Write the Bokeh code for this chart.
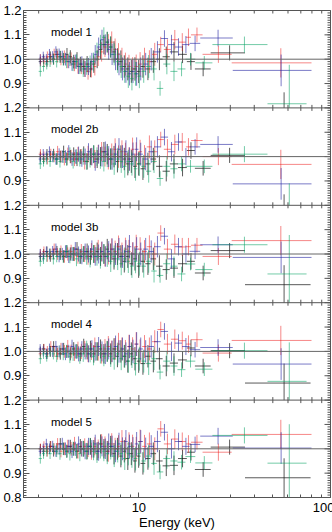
import math
from bokeh.plotting import figure
from bokeh.models import Range1d, FixedTicker, Span, GlobalInlineStyleSheet
from bokeh.embed import file_html
from bokeh.resources import INLINE
from bokeh.core.properties import value

# ---------------- data ----------------
model_labels = ["model 1", "model 2b", "model 3b", "model 4", "model 5"]
y_tick_labels = ["0.8", "0.9", "1.0", "1.1", "1.2"]
ratio_min, ratio_max = 0.8, 1.2
x_lo, x_hi = 2.5, 100
x_major = [10, 100]
x_major_labels = ["10", "100"]
x_minor = [3, 4, 5, 6, 7, 8, 9, 20, 30, 40, 50, 60, 70, 80, 90]

# energy bin edges (keV) per detector / epoch
edges_black = [3.00, 3.12, 3.25, 3.38, 3.52, 3.66, 3.81, 3.97, 4.13, 4.30,
               4.48, 4.66, 4.85, 5.05, 5.26, 5.48, 5.70, 5.94, 6.18, 6.44,
               6.70, 6.98, 7.27, 7.57, 7.89, 8.22, 8.57, 8.94, 9.33, 9.75,
               10.2, 10.8, 11.5, 12.3, 13.3, 14.5, 16.0, 17.8, 19.6, 23.7,
               35.8, 78.7]
edges_red = [3.00, 3.13, 3.26, 3.40, 3.54, 3.69, 3.84, 4.00, 4.17, 4.34,
             4.52, 4.71, 4.91, 5.11, 5.32, 5.54, 5.77, 6.01, 6.26, 6.52,
             6.79, 7.07, 7.36, 7.67, 7.99, 8.33, 8.69, 9.07, 9.47, 9.90,
             10.4, 11.0, 11.7, 12.5, 13.5, 14.7, 16.1, 17.6, 18.7, 21.5,
             30.5, 79.6]
edges_blue = [3.00, 3.11, 3.23, 3.35, 3.48, 3.62, 3.76, 3.91, 4.06, 4.22,
              4.39, 4.57, 4.75, 4.94, 5.14, 5.35, 5.57, 5.80, 6.04, 6.29,
              6.55, 6.82, 7.10, 7.40, 7.71, 8.04, 8.38, 8.74, 9.12, 9.52,
              9.95, 10.5, 11.2, 12.0, 13.0, 14.2, 15.4, 16.8, 18.4, 20.9,
              30.9, 79.6]
edges_green = [3.00, 3.12, 3.24, 3.37, 3.51, 3.65, 3.80, 3.95, 4.11, 4.28,
               4.45, 4.63, 4.82, 5.02, 5.23, 5.45, 5.68, 5.92, 6.17, 6.43,
               6.70, 6.98, 7.28, 7.59, 7.92, 8.26, 8.62, 9.00, 9.40, 9.82,
               10.3, 10.9, 11.6, 12.4, 13.4, 14.6, 15.9, 17.5, 19.7, 24.2,
               46.9, 75.0]

# 1-sigma errors on the ratio
err_black = [0.020, 0.020, 0.021, 0.022, 0.022, 0.023, 0.024, 0.025, 0.026, 0.027,
             0.028, 0.029, 0.030, 0.032, 0.033, 0.034, 0.036, 0.037, 0.039, 0.040,
             0.042, 0.043, 0.044, 0.045, 0.046, 0.046, 0.047, 0.047, 0.048, 0.048,
             0.046, 0.046, 0.046, 0.045, 0.042, 0.040, 0.036, 0.034, 0.030, 0.031, 0.080]
err_red = [0.021, 0.021, 0.022, 0.022, 0.023, 0.024, 0.025, 0.026, 0.027, 0.028,
           0.029, 0.030, 0.031, 0.033, 0.034, 0.035, 0.037, 0.038, 0.040, 0.041,
           0.043, 0.044, 0.045, 0.046, 0.047, 0.047, 0.048, 0.048, 0.049, 0.049,
           0.047, 0.047, 0.047, 0.032, 0.042, 0.040, 0.037, 0.036, 0.030, 0.035, 0.060]
err_blue = [0.020, 0.021, 0.021, 0.022, 0.023, 0.023, 0.024, 0.025, 0.026, 0.027,
            0.028, 0.029, 0.031, 0.032, 0.033, 0.035, 0.036, 0.038, 0.039, 0.041,
            0.042, 0.043, 0.044, 0.045, 0.046, 0.047, 0.047, 0.048, 0.048, 0.049,
            0.047, 0.046, 0.046, 0.044, 0.034, 0.040, 0.036, 0.035, 0.032, 0.034, 0.065]
err_green = [0.021, 0.021, 0.022, 0.022, 0.023, 0.024, 0.025, 0.026, 0.027, 0.028,
             0.029, 0.030, 0.031, 0.033, 0.034, 0.035, 0.037, 0.038, 0.040, 0.041,
             0.043, 0.044, 0.045, 0.046, 0.047, 0.047, 0.048, 0.048, 0.049, 0.049,
             0.047, 0.047, 0.047, 0.030, 0.042, 0.040, 0.030, 0.026, 0.028, 0.033, 0.160]

# data / model ratios, one list per model panel
black_m1 = [0.99, 1.00, 0.99, 1.01, 1.00, 1.02, 1.01, 1.00, 1.02, 1.01,
            0.99, 1.00, 0.98, 0.97, 0.98, 0.96, 0.98, 1.00, 1.04, 1.06,
            1.07, 1.05, 1.03, 1.00, 0.99, 0.97, 0.96, 0.95, 0.96, 0.95,
            0.97, 0.96, 0.99, 1.00, 1.01, 1.03, 1.02, 0.99, 0.96, 1.026, 0.784]
red_m1 = [1.00, 0.99, 1.01, 1.00, 1.02, 1.01, 1.00, 1.01, 0.99, 1.00,
          0.98, 0.97, 0.97, 0.96, 0.95, 0.96, 0.97, 1.01, 1.03, 1.05,
          1.06, 1.07, 1.04, 1.02, 1.00, 0.98, 0.97, 0.96, 0.97, 0.98,
          1.00, 0.99, 1.02, 1.06, 1.04, 1.08, 1.07, 1.09, 1.10, 1.02, 0.985]
blue_m1 = [1.00, 1.01, 1.00, 1.02, 1.01, 1.03, 1.02, 1.01, 1.00, 0.99,
           0.98, 0.99, 0.97, 0.98, 0.96, 0.97, 0.99, 1.02, 1.05, 1.08,
           1.06, 1.04, 1.02, 1.00, 0.98, 0.96, 0.95, 0.94, 0.95, 0.94,
           0.96, 0.98, 1.00, 1.03, 1.085, 1.06, 1.05, 1.06, 1.065, 1.087, 0.954]
green_m1 = [0.95, 0.97, 0.98, 0.99, 1.00, 0.99, 1.01, 1.00, 0.99, 1.00,
            0.98, 0.99, 0.97, 0.96, 0.97, 0.98, 0.99, 1.03, 1.06, 1.09,
            1.07, 1.05, 1.02, 0.99, 0.97, 0.95, 0.93, 0.92, 0.94, 0.93,
            0.95, 0.97, 0.96, 0.88, 0.98, 0.95, 0.96, 1.00, 0.985, 1.06, 0.817]

black_m2b = [1.00, 0.99, 1.01, 1.00, 1.01, 0.99, 1.00, 1.02, 0.99, 1.00,
             1.01, 0.99, 1.00, 1.01, 0.98, 1.00, 1.01, 0.99, 1.00, 1.02,
             1.01, 0.99, 1.00, 0.98, 1.00, 0.99, 0.97, 0.98, 0.96, 0.97,
             0.95, 0.97, 0.99, 0.96, 0.94, 0.97, 0.955, 1.025, 0.952, 1.005, 0.765]
red_m2b = [1.01, 1.00, 0.99, 1.01, 1.00, 1.02, 1.00, 0.99, 1.01, 1.00,
           0.99, 1.01, 1.00, 0.98, 1.01, 1.00, 0.99, 1.01, 1.02, 1.00,
           0.99, 1.01, 1.03, 1.00, 1.02, 1.01, 0.99, 1.03, 1.01, 1.02,
           1.00, 1.04, 1.02, 1.07, 1.03, 1.05, 1.06, 1.04, 1.066, 1.00, 0.968]
blue_m2b = [0.99, 1.01, 1.00, 1.02, 1.00, 0.99, 1.01, 1.00, 1.00, 1.02,
            0.99, 1.00, 1.01, 0.99, 1.00, 1.02, 1.00, 0.98, 1.01, 1.00,
            1.02, 1.00, 0.99, 1.01, 1.03, 1.00, 1.02, 0.99, 1.01, 1.03,
            1.01, 0.99, 1.02, 1.04, 1.08, 1.02, 1.06, 1.00, 1.04, 1.05, 0.888]
green_m2b = [0.97, 0.98, 0.99, 0.98, 1.00, 0.99, 0.98, 1.00, 0.99, 1.01,
             0.98, 1.00, 0.99, 1.00, 0.98, 0.99, 1.01, 1.00, 0.99, 0.98,
             1.00, 0.99, 0.97, 0.99, 0.98, 0.96, 0.98, 0.97, 0.95, 0.97,
             0.96, 0.94, 0.98, 0.91, 0.96, 0.95, 0.97, 0.96, 0.96, 1.01, 0.73]

black_m3b = [0.99, 1.00, 1.01, 0.99, 1.00, 1.01, 1.00, 0.99, 1.01, 1.00,
             1.00, 1.02, 0.99, 1.00, 1.01, 0.99, 1.00, 1.01, 0.99, 1.00,
             1.02, 1.00, 0.98, 1.00, 0.99, 0.97, 0.99, 0.96, 0.98, 0.95,
             0.97, 0.96, 0.98, 0.95, 0.936, 0.942, 0.96, 0.97, 0.922, 1.014, 0.874]
red_m3b = [1.00, 1.01, 0.99, 1.00, 1.02, 1.00, 1.01, 0.99, 1.00, 1.01,
           1.00, 0.99, 1.01, 1.00, 0.99, 1.01, 1.00, 1.02, 1.01, 0.99,
           1.00, 1.02, 1.01, 1.03, 1.00, 1.02, 1.01, 1.00, 1.03, 1.02,
           1.01, 1.03, 1.00, 1.086, 1.02, 1.04, 1.029, 1.03, 1.036, 0.99, 1.055]
blue_m3b = [1.00, 0.99, 1.01, 1.00, 1.01, 1.02, 0.99, 1.00, 1.01, 0.99,
            1.00, 1.02, 1.00, 0.99, 1.01, 1.00, 1.02, 0.99, 1.00, 1.01,
            0.99, 1.01, 1.02, 1.00, 1.02, 0.99, 1.01, 1.03, 1.00, 1.02,
            1.00, 1.02, 1.01, 1.03, 1.073, 0.98, 1.03, 1.00, 1.011, 1.038, 0.986]
green_m3b = [0.97, 0.98, 0.99, 1.00, 0.98, 0.99, 1.00, 0.99, 1.01, 0.99,
             1.00, 0.98, 0.99, 1.00, 0.99, 0.98, 1.00, 0.99, 0.98, 1.00,
             0.99, 0.97, 0.99, 0.98, 0.96, 0.98, 0.97, 0.95, 0.97, 0.96,
             0.95, 0.97, 0.93, 0.912, 0.96, 0.95, 0.918, 0.959, 0.936, 1.038, 0.918]

black_m4 = [1.00, 1.01, 0.99, 1.00, 1.02, 1.00, 0.99, 1.01, 1.00, 0.99,
            1.01, 1.00, 0.99, 1.02, 1.00, 1.01, 0.99, 1.00, 1.01, 0.99,
            1.00, 0.99, 1.01, 0.98, 1.00, 0.98, 0.96, 0.99, 0.97, 0.96,
            0.95, 0.98, 0.96, 0.97, 0.94, 0.952, 0.965, 1.014, 0.94, 1.003, 0.87]
red_m4 = [0.99, 1.01, 1.00, 1.02, 1.00, 0.99, 1.01, 1.00, 1.02, 1.00,
          0.99, 1.01, 1.00, 1.01, 0.99, 1.00, 1.02, 1.00, 0.99, 1.01,
          1.02, 1.00, 1.01, 1.03, 1.01, 1.00, 1.02, 1.01, 1.03, 1.00,
          1.02, 1.01, 1.04, 1.09, 1.03, 1.05, 1.044, 1.03, 1.048, 0.993, 1.045]
blue_m4 = [1.01, 1.00, 0.99, 1.01, 1.00, 1.02, 1.00, 1.01, 0.99, 1.00,
           1.02, 1.00, 0.99, 1.01, 1.00, 0.99, 1.01, 1.00, 1.02, 1.00,
           0.99, 1.01, 1.00, 1.02, 1.00, 1.01, 0.99, 1.02, 1.00, 1.03,
           1.01, 1.00, 1.02, 1.04, 1.082, 1.00, 1.034, 1.02, 1.007, 1.016, 0.948]
green_m4 = [0.97, 0.99, 0.98, 1.00, 0.99, 0.98, 1.00, 0.99, 1.00, 0.98,
            0.99, 1.00, 0.98, 0.99, 1.01, 0.99, 0.98, 1.00, 0.99, 0.98,
            1.00, 0.98, 0.97, 0.99, 0.97, 0.98, 0.96, 0.98, 0.95, 0.97,
            0.96, 0.95, 0.97, 0.915, 0.96, 0.94, 0.925, 0.96, 0.927, 1.003, 0.877]

black_m5 = [1.00, 0.99, 1.00, 1.01, 0.99, 1.00, 1.02, 1.00, 0.99, 1.01,
            1.00, 0.99, 1.01, 1.00, 0.99, 1.01, 1.00, 0.99, 1.02, 1.00,
            0.99, 1.01, 0.98, 1.00, 0.97, 0.99, 0.96, 0.98, 0.95, 0.97,
            0.94, 0.96, 0.98, 0.95, 0.93, 0.932, 0.96, 0.986, 0.915, 1.007, 0.881]
red_m5 = [1.00, 1.01, 0.99, 1.01, 1.00, 1.02, 0.99, 1.00, 1.01, 1.00,
          1.02, 0.99, 1.00, 1.01, 1.00, 0.99, 1.01, 1.00, 1.02, 1.01,
          0.99, 1.02, 1.00, 1.01, 1.03, 1.00, 1.02, 1.01, 1.00, 1.03,
          1.01, 1.02, 1.00, 1.082, 1.02, 1.04, 1.03, 1.02, 1.027, 0.986, 1.059]
blue_m5 = [0.99, 1.00, 1.02, 1.00, 1.01, 0.99, 1.00, 1.02, 1.00, 1.01,
           0.99, 1.00, 1.02, 1.00, 0.99, 1.01, 1.00, 1.02, 0.99, 1.01,
           1.00, 1.02, 1.01, 0.99, 1.02, 1.00, 1.03, 1.01, 1.00, 1.02,
           1.03, 1.00, 1.01, 1.03, 1.068, 1.00, 1.03, 1.01, 1.018, 1.052, 1.003]
green_m5 = [0.96, 0.98, 0.99, 0.98, 1.00, 0.99, 0.98, 1.00, 0.99, 0.98,
            1.00, 0.99, 0.98, 1.00, 0.99, 1.01, 0.99, 0.98, 1.00, 0.99,
            0.98, 1.00, 0.97, 0.99, 0.98, 0.96, 0.98, 0.97, 0.96, 0.98,
            0.95, 0.97, 0.94, 0.905, 0.96, 0.95, 0.945, 0.968, 0.942, 1.055, 0.941]

# ---------------- figure ----------------
n_panels = len(model_labels)
panel_units = 40           # 0.4 in ratio -> 40 units (0.01 per unit)
unit = 100.0               # ratio -> units
y_top = n_panels * panel_units
frame_col = "#555555"
unity_col = "#666666"
FONT = "Liberation Sans"

p = figure(frame_width=307, frame_height=487, x_axis_type="log",
           x_range=Range1d(x_lo, x_hi), y_range=Range1d(0, y_top),
           output_backend="svg", toolbar_location=None,
           min_border_left=21, min_border_right=4, min_border_top=10, min_border_bottom=35)
p.stylesheets = [GlobalInlineStyleSheet(css="html, body { margin: 0 !important; padding: 0; overflow: hidden; }")]
p.grid.visible = False
p.background_fill_color = "white"
p.border_fill_color = "white"
p.outline_line_color = frame_col
p.outline_line_width = 1

def panel_base(k):
    return panel_units * (n_panels - 1 - k)

def to_y(k, r):
    return panel_base(k) + (r - ratio_min) * unit

# y ticks
y_major = list(range(0, y_top + 1, 10))
y_minor = list(range(0, y_top + 1))
y_over = {}
for t in y_major:
    m = t % panel_units
    if t == 0:
        y_over[t] = y_tick_labels[0]
    elif m == 0:
        y_over[t] = y_tick_labels[-1]
    else:
        y_over[t] = y_tick_labels[m // 10]

def style_axis(ax, major_in, minor_in):
    ax.axis_line_color = frame_col
    ax.major_tick_line_color = frame_col
    ax.minor_tick_line_color = frame_col
    ax.major_tick_in = major_in
    ax.major_tick_out = 0
    ax.minor_tick_in = minor_in
    ax.minor_tick_out = 0
    ax.major_label_text_font = FONT
    ax.major_label_text_color = "black"
    ax.major_label_text_font_size = "13px"

yl = p.yaxis[0]
yl.ticker = FixedTicker(ticks=y_major, minor_ticks=y_minor)
yl.major_label_overrides = y_over
style_axis(yl, 6, 3)
yl.major_label_standoff = 2

xb = p.xaxis[0]
xb.ticker = FixedTicker(ticks=x_major, minor_ticks=x_minor)
xb.major_label_overrides = dict(zip(x_major, x_major_labels))
style_axis(xb, 5, 3)
xb.major_label_standoff = 5
xb.axis_label = "Energy (keV)"
xb.axis_label_text_font = FONT
xb.axis_label_text_font_size = "13px"
xb.axis_label_text_font_style = "normal"
xb.axis_label_text_color = "black"
xb.axis_label_standoff = 0

# panel separators and unity lines
for k in range(n_panels):
    if k > 0:
        p.add_layout(Span(location=panel_base(k) + panel_units, dimension="width",
                          line_color=frame_col, line_width=1))
    p.add_layout(Span(location=to_y(k, 1.0), dimension="width",
                      line_color=unity_col, line_width=1))

# mirrored ticks: x ticks on the top edge and internal panel boundaries,
# y ticks on the right edge (half of each dash is clipped by the frame)
bounds = [panel_base(k) + panel_units for k in range(n_panels)]
p.scatter([x for b in bounds for x in x_minor], [b for b in bounds for x in x_minor],
          marker="dash", angle=math.pi / 2, size=6, line_color=frame_col, line_width=1)
p.scatter([x for b in bounds for x in x_major], [b for b in bounds for x in x_major],
          marker="dash", angle=math.pi / 2, size=10, line_color=frame_col, line_width=1)
p.scatter([x_hi] * len(y_minor), y_minor, marker="dash", size=6,
          line_color=frame_col, line_width=1)
p.scatter([x_hi] * len(y_major), y_major, marker="dash", size=12,
          line_color=frame_col, line_width=1)

# data
series = [
    (edges_black, err_black, [black_m1, black_m2b, black_m3b, black_m4, black_m5], "#1a1a1a", 0.72),
    (edges_red, err_red, [red_m1, red_m2b, red_m3b, red_m4, red_m5], "#ee1111", 0.5),
    (edges_blue, err_blue, [blue_m1, blue_m2b, blue_m3b, blue_m4, blue_m5], "#2a2aa5", 0.62),
    (edges_green, err_green, [green_m1, green_m2b, green_m3b, green_m4, green_m5], "#00a060", 0.55),
]

for edges, errs, panels, color, alpha in series:
    vx, vy0, vy1 = [], [], []
    hx0, hx1, hy = [], [], []
    for k, ratios in enumerate(panels):
        for j, r in enumerate(ratios):
            lo, hi = edges[j], edges[j + 1]
            c = 0.5 * (lo + hi)
            top = min(r + errs[j], ratio_max)
            bot = max(r - errs[j], ratio_min)
            if top > bot:
                vx.append(c)
                vy0.append(to_y(k, bot))
                vy1.append(to_y(k, top))
            if ratio_min <= r <= ratio_max:
                hx0.append(lo)
                hx1.append(hi)
                hy.append(to_y(k, r))
    p.segment(vx, vy0, vx, vy1, line_color=color, line_alpha=alpha, line_width=1)
    p.segment(hx0, hy, hx1, hy, line_color=color, line_alpha=alpha, line_width=1)

# model labels
p.text(x=[3.48] * n_panels, y=[to_y(k, 1.112) for k in range(n_panels)], text=model_labels,
       text_font=value(FONT), text_font_size=value("11.5px"), text_color="black",
       text_align="left", text_baseline="middle")

open("out.html", "w").write(file_html(p, INLINE))
